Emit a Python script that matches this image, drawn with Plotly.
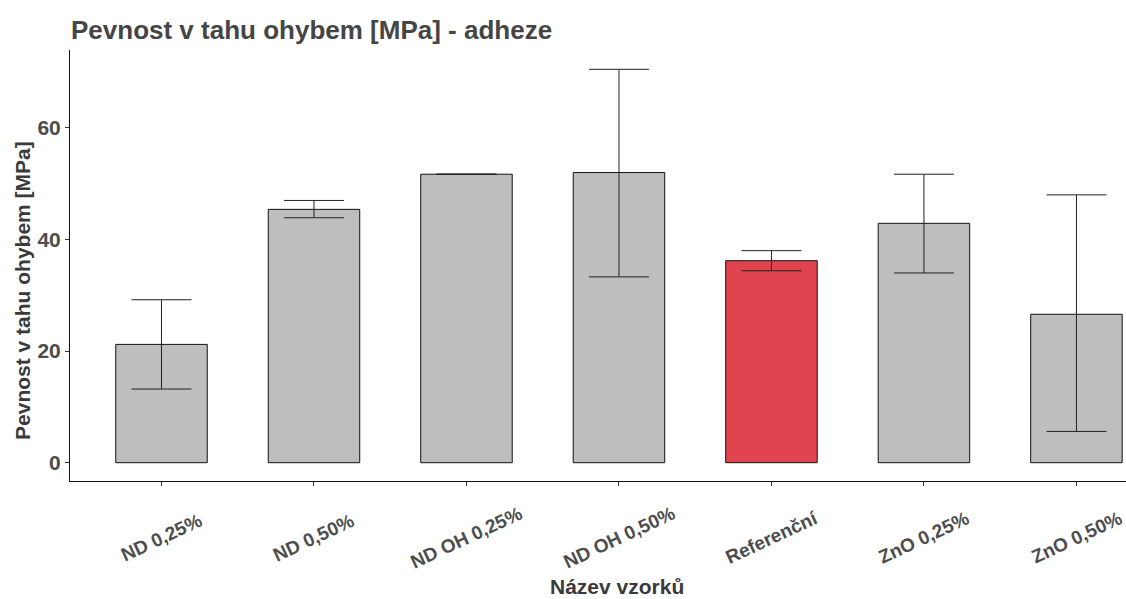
import plotly.graph_objects as go

categories = ["ND 0,25%", "ND 0,50%", "ND OH 0,25%", "ND OH 0,50%", "Referenční", "ZnO 0,25%", "ZnO 0,50%"]
means = [21.2, 45.4, 51.7, 52.0, 36.2, 42.9, 26.6]
upper = [29.2, 47.0, None, 70.5, 38.0, 51.7, 48.0]
lower = [13.2, 43.9, None, 33.3, 34.4, 34.0, 5.6]
bar_colors = ["#BEBEBE", "#BEBEBE", "#BEBEBE", "#BEBEBE", "#E0444F", "#BEBEBE", "#BEBEBE"]
y_ticks = [0, 20, 40, 60]

err_plus = [(u - m) if u is not None else None for u, m in zip(upper, means)]
err_minus = [(m - l) if l is not None else None for l, m in zip(lower, means)]

FONT = "Liberation Sans, Arial, sans-serif"

fig = go.Figure()
fig.add_trace(go.Bar(
    x=list(range(len(categories))),
    y=means,
    width=0.6,
    marker=dict(color=bar_colors, line=dict(color="#111111", width=1)),
    error_y=dict(type="data", symmetric=False, array=err_plus, arrayminus=err_minus,
                 color="#222222", thickness=1, width=30),
    showlegend=False,
    hoverinfo="skip",
))

annotations = []
for i, c in enumerate(categories):
    annotations.append(dict(
        x=i, xref="x", y=-0.13, yref="paper", text=c, showarrow=False,
        textangle=-25, xanchor="center", yanchor="middle",
        font=dict(family=FONT, size=19, color="#4D4D4D", weight="bold"),
    ))
annotations.append(dict(
    x=(617 - 70) / 1056, xref="paper", y=-0.245, yref="paper",
    text="Název vzorků", showarrow=False, xanchor="center", yanchor="middle",
    font=dict(family=FONT, size=21, color="#3A3A3A", weight="bold"),
))
annotations.append(dict(
    x=-0.0455, xref="paper", y=(481 - 290) / 431, yref="paper",
    text="Pevnost v tahu ohybem [MPa]", showarrow=False, textangle=-90,
    xanchor="center", yanchor="middle",
    font=dict(family=FONT, size=21, color="#3A3A3A", weight="bold"),
))

fig.update_layout(
    width=1126, height=599,
    margin=dict(l=70, r=0, t=50, b=118),
    paper_bgcolor="white", plot_bgcolor="white",
    title=dict(text="Pevnost v tahu ohybem [MPa] - adheze",
               x=71 / 1126, xref="container", xanchor="left",
               y=1 - 30 / 599, yref="container", yanchor="middle",
               font=dict(family=FONT, size=26, color="#454545", weight="bold")),
    annotations=annotations,
    bargap=0.4,
)
fig.update_xaxes(range=[-0.6, 6.325], showticklabels=False, ticks="outside", ticklen=4,
                 tickcolor="#333333", tickvals=list(range(len(categories))),
                 showline=True, linecolor="#111111", linewidth=1, showgrid=False, zeroline=False)
fig.update_yaxes(range=[-3.28, 73.96], tickvals=y_ticks, ticks="outside", ticklen=4,
                 tickcolor="#333333", showline=True, linecolor="#111111", linewidth=1,
                 showgrid=False, zeroline=False,
                 tickfont=dict(family=FONT, size=21, color="#4D4D4D", weight="bold"))

fig.write_html("out.html", config={"displayModeBar": False},
               post_script="document.body.style.margin='0';")
